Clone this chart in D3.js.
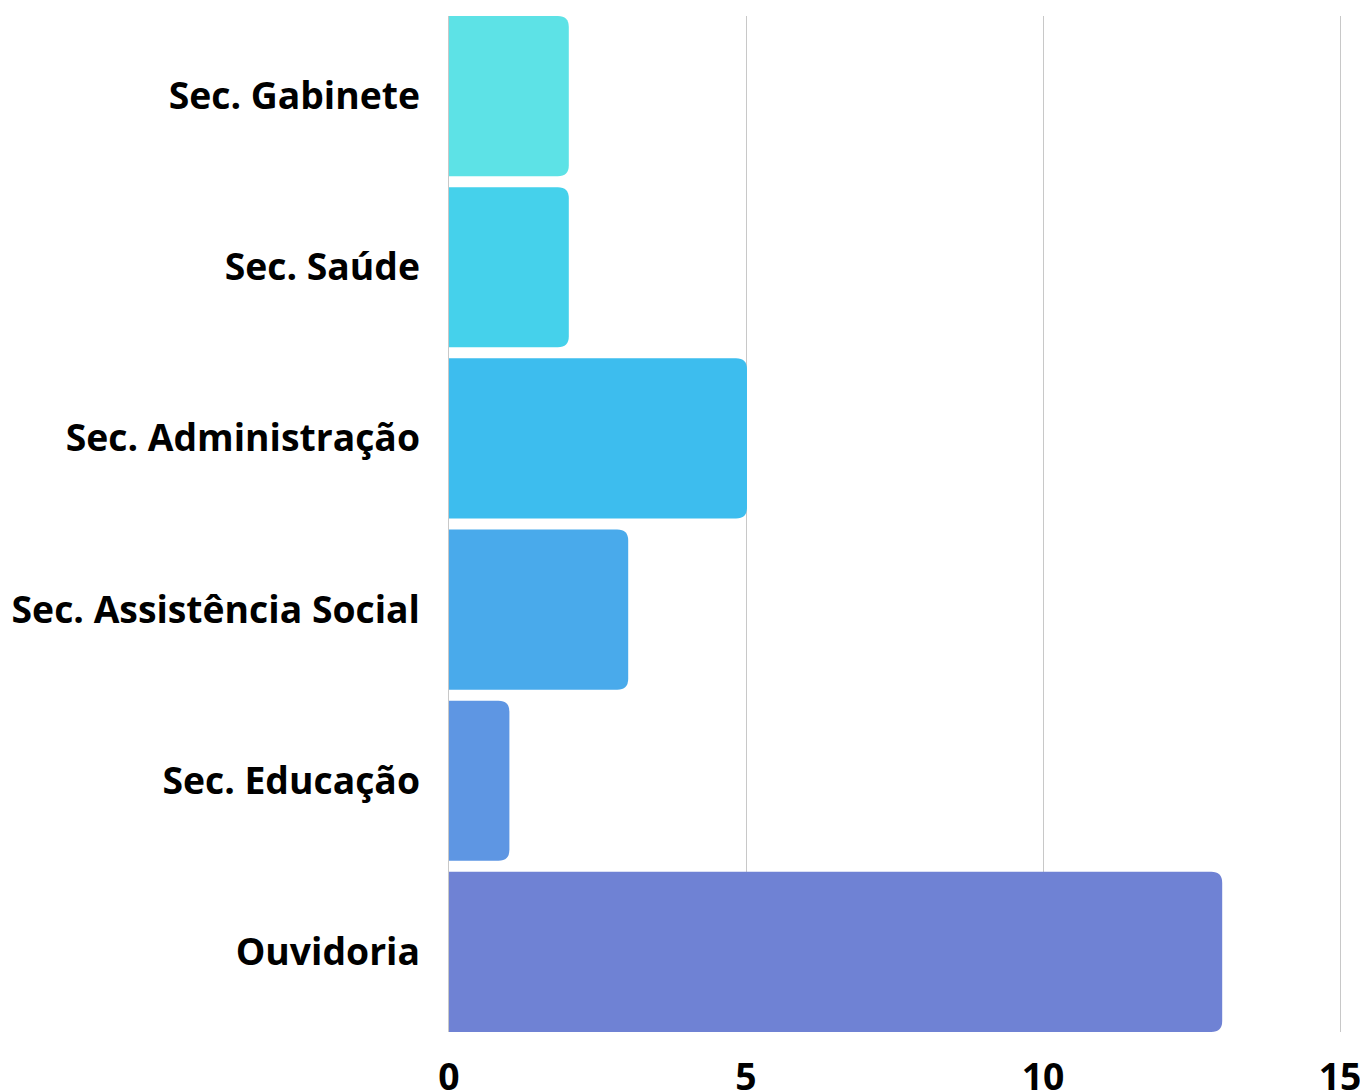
<!DOCTYPE html>
<html>
<head>
<meta charset="utf-8">
<script src="https://cdn.jsdelivr.net/npm/d3@7"></script>
<style>
  body { margin: 0; background: #fff; }
  svg { display: block; font-family: "Open Sans", "Noto Sans", sans-serif; }
</style>
</head>
<body>
<svg></svg>
<script>
const width = 1360, height = 1092;

// data
const categories = ["Sec. Gabinete", "Sec. Saúde", "Sec. Administração", "Sec. Assistência Social", "Sec. Educação", "Ouvidoria"];
const values = [2, 2, 5, 3, 1, 13];
const colors = ["#5de2e6", "#45d1eb", "#3dbdee", "#49aaeb", "#5e96e3", "#6f82d4"];
const x_ticks = [0, 5, 10, 15];

const svg = d3.select("svg").attr("width", width).attr("height", height);

const x_scale = d3.scaleLinear().domain([0, 15]).range([449, 1340]);
const y_scale = d3.scaleBand().domain(categories).range([16, 1032]).paddingInner(0.064).paddingOuter(0);

// grid lines
svg.append("g")
  .selectAll("line")
  .data(x_ticks)
  .join("line")
  .attr("x1", d => Math.round(x_scale(d)) - (d === 0 ? 0.5 : -0.5))
  .attr("x2", d => Math.round(x_scale(d)) - (d === 0 ? 0.5 : -0.5))
  .attr("y1", 16)
  .attr("y2", 1032)
  .attr("stroke", "#c8c8c8")
  .attr("stroke-width", 1);

// bars, rounded on the right side only
const r = 11;
const bar_path = (d, i) => {
  const x0 = x_scale(0), x1 = x_scale(d) + 1;
  const y0 = y_scale(categories[i]), h = y_scale.bandwidth();
  const rr = Math.min(r, (x1 - x0) / 2);
  return `M${x0},${y0}H${x1 - rr}Q${x1},${y0} ${x1},${y0 + rr}V${y0 + h - rr}Q${x1},${y0 + h} ${x1 - rr},${y0 + h}H${x0}Z`;
};

svg.append("g")
  .selectAll("path")
  .data(values)
  .join("path")
  .attr("d", bar_path)
  .attr("fill", (d, i) => colors[i]);

// category labels
svg.append("g")
  .selectAll("text")
  .data(categories)
  .join("text")
  .attr("x", 420)
  .attr("y", d => y_scale(d) + y_scale.bandwidth() / 2)
  .attr("dy", "0.35em")
  .attr("text-anchor", "end")
  .style("font-size", "37.3px")
  .style("font-weight", "bold")
  .attr("fill", "#000")
  .text(d => d);

// x tick labels
svg.append("g")
  .selectAll("text")
  .data(x_ticks)
  .join("text")
  .attr("x", d => x_scale(d))
  .attr("y", 1090)
  .attr("text-anchor", "middle")
  .style("font-size", "37.3px")
  .style("font-weight", "bold")
  .attr("fill", "#000")
  .text(d => d);
</script>
</body>
</html>
